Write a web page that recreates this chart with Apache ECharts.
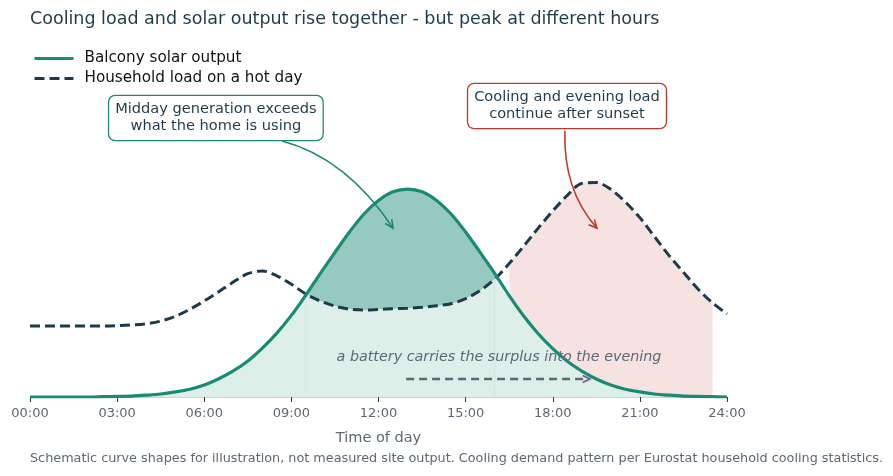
<!DOCTYPE html>
<html>
<head>
<meta charset="utf-8">
<script src="https://cdn.jsdelivr.net/npm/echarts@6/dist/echarts.min.js"></script>
<style>
  html, body { margin: 0; padding: 0; background: #fff; }
  #chart { width: 893px; height: 476px; }
</style>
</head>
<body>
<div id="chart"></div>
<script>
// hours of the day, half-hour steps
var hours = [0, 0.5, 1, 1.5, 2, 2.5, 3, 3.5, 4, 4.5, 5, 5.5, 6, 6.5, 7, 7.5, 8, 8.5,
    9, 9.5, 10, 10.5, 11, 11.5, 12, 12.5, 13, 13.5, 14, 14.5, 15, 15.5, 16, 16.5,
    17, 17.5, 18, 18.5, 19, 19.5, 20, 20.5, 21, 21.5, 22, 22.5, 23, 23.5, 24];

// balcony solar output (relative units)
var solar = [0, 0, 0, 0, 0, 0.001, 0.002, 0.003, 0.006, 0.010, 0.017, 0.026, 0.040, 0.061,
    0.087, 0.120, 0.163, 0.213, 0.272, 0.340, 0.412, 0.482, 0.550, 0.610, 0.655, 0.684,
    0.693, 0.684, 0.655, 0.610, 0.550, 0.482, 0.412, 0.338, 0.270, 0.211, 0.161, 0.119,
    0.086, 0.060, 0.040, 0.026, 0.017, 0.010, 0.006, 0.003, 0.002, 0.001, 0];

// household load on a hot day
var load = [0.237, 0.237, 0.237, 0.237, 0.237, 0.237, 0.238, 0.240, 0.244, 0.253, 0.269,
    0.292, 0.320, 0.351, 0.383, 0.411, 0.420, 0.404, 0.376, 0.343, 0.320, 0.303, 0.293,
    0.290, 0.292, 0.294, 0.296, 0.299, 0.304, 0.311, 0.328, 0.355, 0.393, 0.445, 0.503,
    0.563, 0.620, 0.672, 0.712, 0.715, 0.692, 0.650, 0.598, 0.535, 0.472, 0.416, 0.360,
    0.314, 0.277];

// shaded windows (hours)
var surplusWindow = [9.5, 16];
var eveningWindow = [16.5, 23.5];

var solarName = 'Balcony solar output';
var loadName = 'Household load on a hot day';

var teal = '#1a8a74';
var navy = '#1b3a4b';
var red = '#c0392b';
var grey = '#5b6876';
var font = 'DejaVu Sans';
var curve = 0.33;

var pairs = function(values, from, to) {
    var out = [];
    for (var i = 0; i < hours.length; i++) {
        if (hours[i] >= from && hours[i] <= to) {
            out.push([hours[i], values[i]]);
        }
    }
    return out;
};

var fill = function(data, color) {
    return {
        type: 'line', data: data, smooth: curve, symbol: 'none', silent: true,
        lineStyle: { width: 0 }, areaStyle: { color: color, opacity: 1 }
    };
};

var chart = echarts.init(document.getElementById('chart'));

chart.setOption({
    animation: false,
    title: {
        text: 'Cooling load and solar output rise together - but peak at different hours',
        left: 25, top: 5,
        textStyle: { fontFamily: font, fontSize: 17.5, fontWeight: 'normal', color: '#1f3a4d' }
    },
    legend: {
        data: [solarName, loadName],
        orient: 'vertical', left: 28, top: 46,
        itemWidth: 39, itemHeight: 14, itemGap: 5,
        itemStyle: { opacity: 0 },
        lineStyle: { width: 3 },
        textStyle: { fontFamily: font, fontSize: 15.2, color: '#111', padding: [0, 0, 0, 6] }
    },
    grid: { left: 30, right: 166, top: 97, bottom: 79 },
    xAxis: {
        type: 'value', min: 0, max: 24, interval: 3,
        name: 'Time of day', nameLocation: 'middle', nameGap: 34,
        nameTextStyle: { fontFamily: font, fontSize: 14.5, color: grey },
        axisLine: { lineStyle: { color: '#cfcfcf', width: 1 } },
        axisTick: { length: 5, lineStyle: { color: '#333' } },
        axisLabel: {
            fontFamily: font, fontSize: 13, color: grey, margin: 10,
            formatter: function(v) { return (v < 10 ? '0' : '') + v + ':00'; }
        },
        splitLine: { show: false }
    },
    yAxis: { type: 'value', min: 0, max: 1, show: false },
    series: [
        fill(pairs(load, eveningWindow[0], eveningWindow[1]), '#f6e3e1'),
        fill(pairs(solar, 0, 24), '#deeee9'),
        fill(pairs(solar, surplusWindow[0], surplusWindow[1]), '#96c9c0'),
        fill(pairs(load, surplusWindow[0], surplusWindow[1]), '#deeee9'),
        {
            name: loadName, type: 'line', data: pairs(load, 0, 24), smooth: curve, symbol: 'none',
            lineStyle: { color: navy, width: 3, type: [10, 5] }, itemStyle: { color: navy }
        },
        {
            name: solarName, type: 'line', data: pairs(solar, 0, 24), smooth: curve, symbol: 'none',
            lineStyle: { color: teal, width: 3.2 }, itemStyle: { color: teal }
        }
    ]
});

/*** annotations, anchored in data space ***/
var px = function(p) {
    return chart.convertToPixel({ gridIndex: 0 }, p);
};

var arrowHead = function(from, to, color, size) {
    var a = Math.atan2(to[1] - from[1], to[0] - from[0]);
    var w = 0.45;
    return {
        type: 'polyline', silent: true, z: 100,
        shape: { points: [
            [to[0] - size * Math.cos(a - w), to[1] - size * Math.sin(a - w)],
            to,
            [to[0] - size * Math.cos(a + w), to[1] - size * Math.sin(a + w)]
        ] },
        style: { stroke: color, lineWidth: 1.6, fill: null }
    };
};

var curvedArrow = function(start, ctrl, end, color) {
    var s = px(start), c = px(ctrl), e = px(end);
    return [
        {
            type: 'bezierCurve', silent: true, z: 100,
            shape: { x1: s[0], y1: s[1], x2: e[0], y2: e[1], cpx1: c[0], cpy1: c[1] },
            style: { stroke: color, lineWidth: 1.6, fill: null }
        },
        arrowHead(c, e, color, 9)
    ];
};

var noteBox = function(text, at, color) {
    var p = px(at);
    return {
        type: 'text', x: p[0], y: p[1], z: 110, silent: true,
        style: {
            text: text, align: 'center', verticalAlign: 'middle',
            font: '14.6px "' + font + '"', lineHeight: 17, fill: '#1f3a4d',
            backgroundColor: '#fff', borderColor: color, borderWidth: 1.3,
            borderRadius: 6, padding: [5, 6]
        }
    };
};

var bStart = px([12.95, 0.06]);
var bEnd = px([19.28, 0.06]);
var battery = px([16.15, 0.133]);

var graphics = [
    noteBox('Midday generation exceeds\nwhat the home is using', [6.4, 0.93], teal),
    noteBox('Cooling and evening load\ncontinue after sunset', [18.49, 0.97], red),
    {
        type: 'text', x: battery[0], y: battery[1], z: 100, silent: true,
        style: {
            text: 'a battery carries the surplus into the evening',
            align: 'center', verticalAlign: 'middle',
            font: 'italic 14.3px "' + font + '"', fill: grey
        }
    },
    {
        type: 'line', silent: true, z: 100,
        shape: { x1: bStart[0], y1: bStart[1], x2: bEnd[0] - 2, y2: bEnd[1] },
        style: { stroke: grey, lineWidth: 2.6, lineDash: [8, 5] }
    },
    arrowHead(bStart, bEnd, grey, 8),
    {
        type: 'text', silent: true, left: 30, top: 452,
        style: {
            text: 'Schematic curve shapes for illustration, not measured site output. Cooling demand pattern per Eurostat household cooling statistics.',
            font: '12.8px "' + font + '"', fill: grey
        }
    }
];

graphics = graphics.concat(curvedArrow([8.68, 0.853], [10.88, 0.797], [12.5, 0.563], teal));
graphics = graphics.concat(curvedArrow([18.42, 0.887], [18.35, 0.69], [19.52, 0.563], red));

chart.setOption({ graphic: graphics });
</script>
</body>
</html>
